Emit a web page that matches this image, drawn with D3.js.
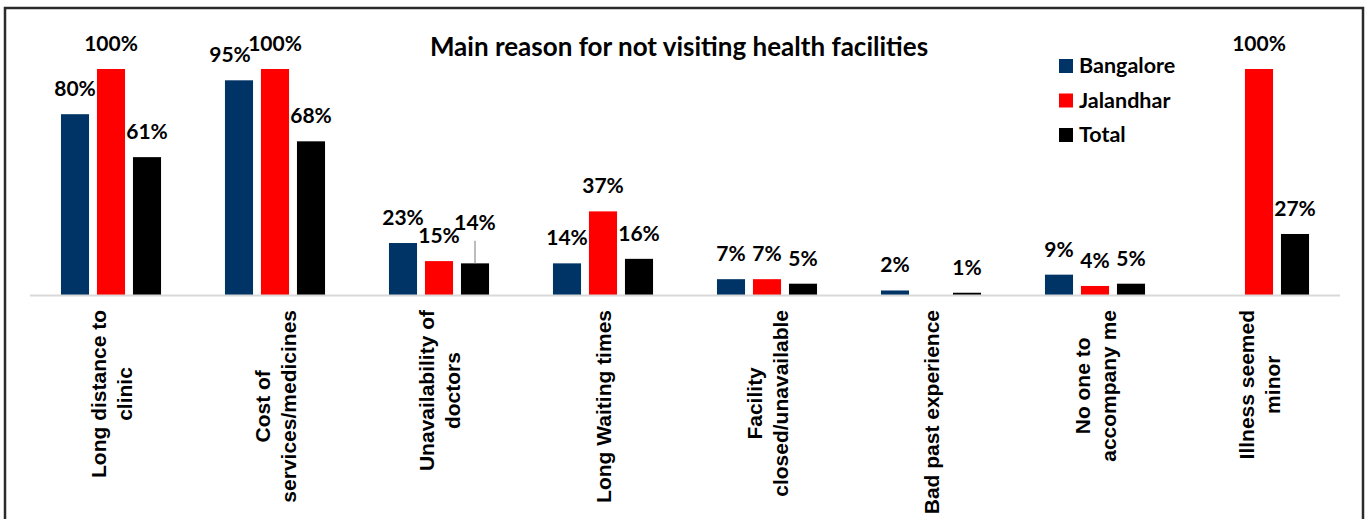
<!DOCTYPE html>
<html>
<head>
<meta charset="utf-8">
<script src="https://cdn.jsdelivr.net/npm/d3@7"></script>
<style>
  html, body { margin: 0; padding: 0; background: #fff; }
  svg { display: block; }
</style>
</head>
<body>
<svg id="chart" width="1365" height="519"></svg>
<script>
// Reasons (each entry is a list of label lines)
const categories = [
  ["Long distance to", "clinic"],
  ["Cost of", "services/medicines"],
  ["Unavailability of", "doctors"],
  ["Long Waiting times"],
  ["Facility", "closed/unavailable"],
  ["Bad past experience"],
  ["No one to", "accompany me"],
  ["Illness seemed", "minor"]
];
const seriesNames = ["Bangalore", "Jalandhar", "Total"];
const seriesColors = ["#003366", "#ff0000", "#000000"];

// Percentages per reason (null = no bar)
const bangalore = [80, 95, 23, 14, 7, 2, 9, null];
const jalandhar = [100, 100, 15, 37, 7, null, 4, 100];
const total     = [61, 68, 14, 16, 5, 1, 5, 27];
// Upper whisker on the Total bars (null = none)
const totalUpper = [null, null, 24, null, null, null, null, null];

const values = [bangalore, jalandhar, total];

const svg = d3.select("#chart");

// outer frame
svg.append("rect")
  .attr("x", 5).attr("y", 8)
  .attr("width", 1358).attr("height", 530)
  .attr("fill", "#fff")
  .attr("stroke", "#2b2b2b")
  .attr("stroke-width", 2.5);

const x0 = d3.scaleBand()
  .domain(d3.range(categories.length))
  .range([29, 1341])
  .padding(0);

const x1 = d3.scaleBand()
  .domain(seriesNames)
  .range([-54, 54])
  .paddingInner(0.22)
  .paddingOuter(0.11);

const y = d3.scaleLinear().domain([0, 100]).range([295, 69]);

// title
svg.append("text")
  .attr("x", 679).attr("y", 56)
  .attr("text-anchor", "middle")
  .attr("font-family", "Lato, 'Open Sans', sans-serif")
  .attr("font-weight", "bold")
  .attr("font-size", 26)
  .attr("fill", "#000")
  .text("Main reason for not visiting health facilities");

// bars
const groups = svg.append("g").selectAll("g")
  .data(categories.map((c, i) => i))
  .join("g")
  .attr("transform", i => `translate(${x0(i) + x0.bandwidth() / 2},0)`);

groups.each(function(ci) {
  const g = d3.select(this);
  seriesNames.forEach((s, si) => {
    const v = values[si][ci];
    if (v == null) return;
    g.append("rect")
      .attr("x", x1(s))
      .attr("y", y(v))
      .attr("width", x1.bandwidth())
      .attr("height", y(0) - y(v))
      .attr("fill", seriesColors[si]);
  });
  const up = totalUpper[ci];
  if (up != null) {
    const cx = x1("Total") + x1.bandwidth() / 2;
    g.append("line")
      .attr("x1", cx).attr("x2", cx)
      .attr("y1", y(total[ci])).attr("y2", y(up))
      .attr("stroke", "#a6a6a6")
      .attr("stroke-width", 1.5);
  }
});

// axis baseline
svg.append("line")
  .attr("x1", 30).attr("x2", 1340)
  .attr("y1", y(0) + 0.5).attr("y2", y(0) + 0.5)
  .attr("stroke", "#d9d9d9")
  .attr("stroke-width", 2);

// value labels
groups.each(function(ci) {
  const g = d3.select(this);
  seriesNames.forEach((s, si) => {
    const v = values[si][ci];
    if (v == null) return;
    let ly = y(v) - 18;
    if (si === 2 && totalUpper[ci] != null) ly = Math.min(ly, y(totalUpper[ci]) - 11);
    // nudge the 95% label left so it clears the neighbouring 100%
    const dx = (ci === 1 && si === 0) ? -9 : 0;
    g.append("text")
      .attr("x", x1(s) + x1.bandwidth() / 2 + dx)
      .attr("y", ly)
      .attr("text-anchor", "middle")
      .attr("font-family", "Lato, 'Open Sans', sans-serif")
      .attr("font-weight", "bold")
      .attr("font-size", 21)
      .attr("fill", "#000")
      .text(v + "%");
  });
});

// category labels, rotated, top-aligned under the axis
const labelTop = 310;
const lineGap = 26;
groups.each(function(ci) {
  const lines = categories[ci];
  const lg = d3.select(this).append("g")
    .attr("transform", `translate(0,${labelTop}) rotate(-90)`);
  const texts = lines.map((line, li) => lg.append("text")
    .attr("y", 7.5 + (li - (lines.length - 1) / 2) * lineGap)
    .attr("text-anchor", "middle")
    .attr("font-family", "'Liberation Sans', Arial, sans-serif")
    .attr("font-weight", "bold")
    .attr("font-size", 21)
    .attr("fill", "#000")
    .text(line));
  const maxW = d3.max(texts, t => t.node().getComputedTextLength());
  texts.forEach(t => t.attr("x", -maxW / 2));
});

// legend
const legend = svg.append("g").attr("transform", "translate(1059,59)");
seriesNames.forEach((s, i) => {
  const row = legend.append("g").attr("transform", `translate(0,${i * 34.5})`);
  row.append("rect")
    .attr("width", 14).attr("height", 14)
    .attr("fill", seriesColors[i]);
  row.append("text")
    .attr("x", 20).attr("y", 14)
    .attr("font-family", "Lato, 'Open Sans', sans-serif")
    .attr("font-weight", "bold")
    .attr("font-size", 21.5)
    .attr("fill", "#000")
    .text(s);
});
</script>
</body>
</html>
